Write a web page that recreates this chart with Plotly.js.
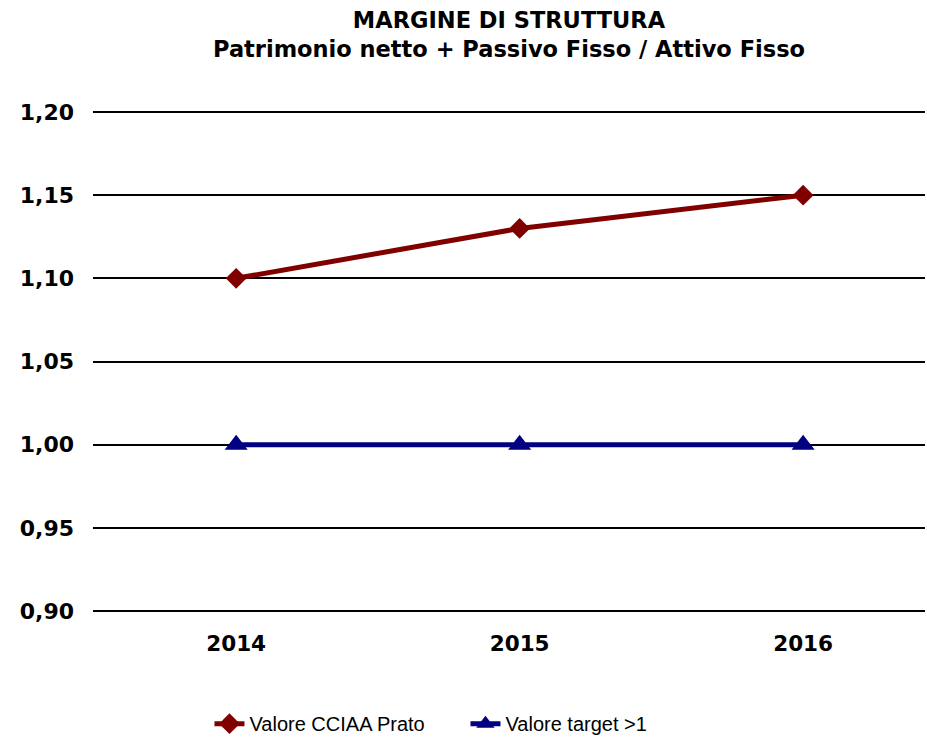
<!DOCTYPE html>
<html>
<head>
<meta charset="utf-8">
<script src="https://cdn.plot.ly/plotly-3.0.1.min.js"></script>
<style>
  body { margin: 0; background: #fff; }
  #grafico { width: 927px; height: 742px; }
</style>
</head>
<body>
<div id="grafico"></div>
<script>
// ---------- Dati ----------
const anni = ["2014", "2015", "2016"];
const valoreCciaa = [1.10, 1.13, 1.15];
const valoreTarget = [1.00, 1.00, 1.00];
const tickValori = [0.90, 0.95, 1.00, 1.05, 1.10, 1.15, 1.20];

const fontBold = "DejaVu Sans, Arial, sans-serif";
const fontLegenda = "Liberation Sans, Arial, sans-serif";

const serieCciaa = {
  x: anni,
  y: valoreCciaa,
  type: "scatter",
  mode: "lines+markers",
  name: "Valore CCIAA Prato",
  line: { color: "#800000", width: 5 },
  marker: { symbol: "diamond", size: 16, color: "#800000" }
};

const serieTarget = {
  x: anni,
  y: valoreTarget,
  type: "scatter",
  mode: "lines+markers",
  name: "Valore target >1",
  line: { color: "#000080", width: 5 },
  marker: { symbol: "triangle-up", size: 20, color: "#000080" }
};

// range un po' allargato, così le griglie a 0,90 e 1,20 restano visibili
const layout = {
  width: 927,
  height: 742,
  separators: ",.",
  paper_bgcolor: "#fff",
  plot_bgcolor: "#fff",
  margin: { l: 93, r: 2, t: 107, b: 126, autoexpand: false },
  title: {
    text: "<b>MARGINE DI STRUTTURA</b><br><b>Patrimonio netto + Passivo Fisso / Attivo Fisso</b>",
    font: { family: fontBold, size: 22.5, color: "#000" },
    x: 0.5,
    xanchor: "center",
    xref: "paper",
    y: 0.962,
    yanchor: "middle"
  },
  xaxis: {
    type: "category",
    range: [-0.505, 2.43],
    showgrid: false,
    zeroline: false,
    showline: false,
    ticks: "",
    tickfont: { family: fontBold, size: 21.5, color: "#000", weight: "bold" },
    ticklabelstandoff: 12
  },
  yaxis: {
    range: [0.897, 1.203],
    tickvals: tickValori,
    tickformat: ".2f",
    showgrid: true,
    gridcolor: "#000",
    gridwidth: 2,
    zeroline: false,
    showline: false,
    ticks: "",
    tickfont: { family: fontBold, size: 22, color: "#000", weight: "bold" },
    ticklabelstandoff: 18
  },
  showlegend: true,
  legend: {
    orientation: "h",
    x: 0.14,
    xanchor: "left",
    yref: "container",
    y: 0.051,
    yanchor: "top",
    entrywidth: 211,
    font: { family: fontLegenda, size: 20, color: "#000" }
  }
};

Plotly.newPlot("grafico", [serieCciaa, serieTarget], layout, { displayModeBar: false });
</script>
</body>
</html>
